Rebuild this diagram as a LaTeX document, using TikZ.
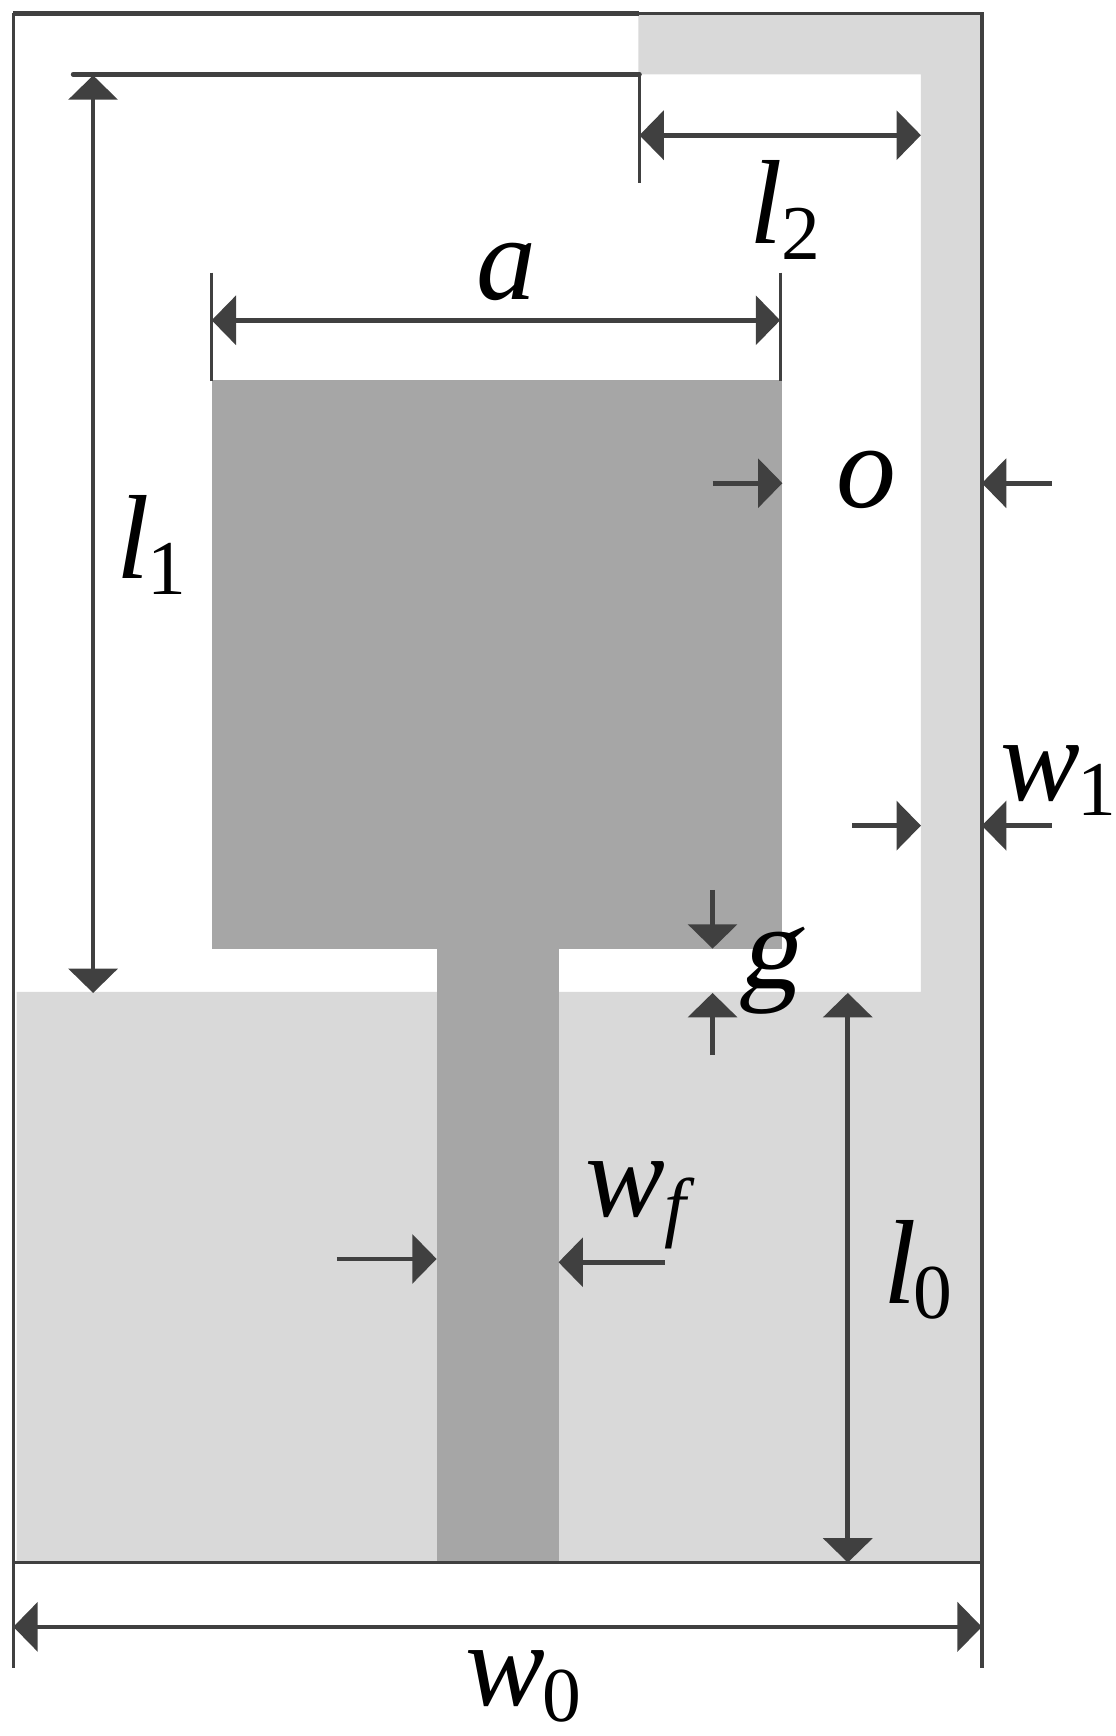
\documentclass[tikz,border=0pt]{standalone}
\usepackage{fontspec}
\setmainfont{Liberation Serif}
\newfontfamily\slantfam[FakeSlant=0.2]{Liberation Serif}
\usetikzlibrary{arrows.meta}
\definecolor{lineg}{HTML}{404040}
\definecolor{lightm}{HTML}{D9D9D9}
\definecolor{darkm}{HTML}{A6A6A6}
\newcommand{\bigf}{\fontsize{108}{110}\selectfont\itshape}
\newcommand{\subf}{\fontsize{70}{72}\selectfont\upshape}
\newcommand{\symb}[3]{{\bigf #1}\hspace{#3}\raisebox{-14pt}{\subf #2}}
\tikzset{
  x=1pt,y=-1pt,
  thinline/.style={draw=lineg,line width=3pt},
  thickline/.style={draw=lineg,line width=4.2pt},
  dim/.style={draw=lineg,line width=4.2pt,-{Triangle[length=22pt,width=44pt,sep=0pt]}},
  dimboth/.style={draw=lineg,line width=4.2pt,{Triangle[length=22pt,width=44pt,sep=0pt]}-{Triangle[length=22pt,width=44pt,sep=0pt]}},
  lab/.style={anchor=base west,inner sep=0pt,text=black}
}
\begin{document}
\begin{tikzpicture}
\useasboundingbox (0,0) rectangle (1007,1566.5);
% metal
\fill[lightm] (576,12) -- (886,12) -- (886,1410) -- (15,1410) -- (15,895) -- (831,895) -- (831,67) -- (576,67) -- cycle;
\fill[darkm] (191,343) rectangle (706,856);
\fill[darkm] (394,856) rectangle (504,1410);
% frame
\draw[thinline] (576,12) -- (886,12) -- (886,1505);
\draw[thinline] (12,12) -- (12,1505);
\draw[thinline] (12,1410) -- (886,1410);
\draw[thickline] (12,12) -- (577,12);
% extension lines
\draw[thickline,line cap=round] (66,67) -- (577,67);
\draw[thinline] (577,67) -- (577,165);
\draw[thinline] (191,246) -- (191,344);
\draw[thinline] (704,246) -- (704,344);
% dimension arrows
\draw[dimboth] (84,68) -- (84,896);
\draw[dimboth] (577,122) -- (831,122);
\draw[dimboth] (191,289) -- (704,289);
\draw[dim] (643,436) -- (706,436);
\draw[dim] (949,436) -- (886,436);
\draw[dim] (769,745) -- (831,745);
\draw[dim] (949,745) -- (886,745);
\draw[dim] (643,803) -- (643,856);
\draw[dim] (643,952) -- (643,896);
\draw[dimboth] (765,896) -- (765,1410);
\draw[dim] (304,1136) -- (394,1136);
\draw[dim] (600,1139) -- (504,1139);
\draw[dimboth] (12,1468) -- (886,1468);
% labels
\node[lab] (la) at (430,270) {\bigf a};
\node[lab] (ll2) at (676,220) {\symb{l}{2}{-1pt}};
\node[lab] (lo) at (755,458) {\bigf o};
\node[lab] (ll1) at (105,522) {\symb{l}{1}{-2pt}};
\node[lab] (lw1) at (903,722) {\symb{w}{1}{-3pt}};
\node[lab] (lg) at (666,892) {\fontsize{108}{110}\selectfont\slantfam g};
\node[lab] (lwf) at (528,1098) {\symb{w}{\itshape f}{-1pt}};
\node[lab] (ll0) at (797,1176) {\symb{l}{0}{-3pt}};
\node[lab] (lw0) at (420,1539) {\symb{w}{0}{-3pt}};
\end{tikzpicture}
\end{document}
